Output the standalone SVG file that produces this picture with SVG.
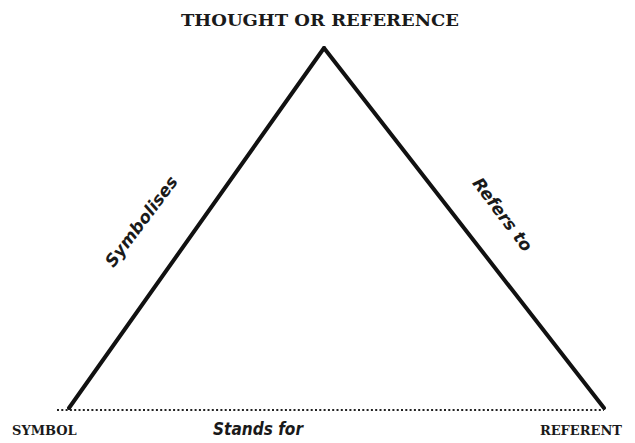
<svg xmlns="http://www.w3.org/2000/svg" width="635" height="443" viewBox="0 0 635 443">
<style>
.cap{font-family:"DejaVu Serif",serif;font-weight:bold;font-size:16px;fill:#1a1a1a}
.capb{font-family:"DejaVu Serif",serif;font-weight:bold;font-size:13px;fill:#1a1a1a}
.lab{font-family:"DejaVu Sans","Liberation Sans",sans-serif;font-style:italic;font-weight:bold;font-size:17px;fill:#1a1a1a}
.side{stroke:#111;stroke-width:4;fill:none;stroke-linecap:round}
</style>
<rect width="635" height="443" fill="#fff"/>
<g id="connectors">
<path class="side" d="M69,408 L324,48"/>
<path class="side" d="M324,48 L604,408"/>
<path d="M57,410 L604,410" stroke="#222" stroke-width="2" stroke-dasharray="2,2.3" fill="none"/>
</g>
<g id="thought"><text class="cap" x="181" y="26" textLength="278" lengthAdjust="spacingAndGlyphs">THOUGHT OR REFERENCE</text></g>
<g id="symbol"><text class="capb" x="12" y="435">SYMBOL</text></g>
<g id="referent"><text class="capb" x="622" y="435" text-anchor="end">REFERENT</text></g>
<g id="lab-symbolises"><text class="lab" x="0" y="0" text-anchor="middle" transform="translate(146,225) rotate(-53)">Symbolises</text></g>
<g id="lab-refers"><text class="lab" x="0" y="0" text-anchor="middle" transform="translate(498,218) rotate(53)">Refers to</text></g>
<g id="lab-stands"><text class="lab" x="258" y="435" text-anchor="middle" textLength="90" lengthAdjust="spacingAndGlyphs">Stands for</text></g>
</svg>
